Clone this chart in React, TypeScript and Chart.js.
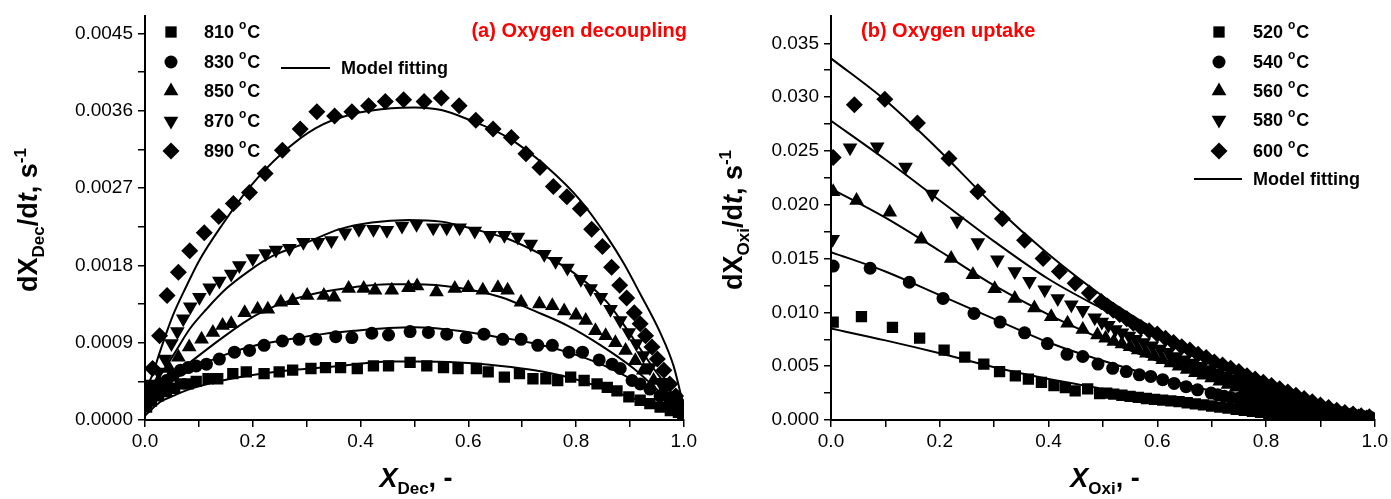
import React, { useEffect, useRef } from 'react';
import { Chart, registerables } from 'chart.js';

Chart.register(...registerables);

const FONT = '"Liberation Sans", Arial, Helvetica, sans-serif';

// ---------- Panel (a): oxygen decoupling ----------
const decTicksX = [0, 0.1, 0.2, 0.3, 0.4, 0.5, 0.6, 0.7, 0.8, 0.9, 1.0];
const decTicksY = [0, 0.00045, 0.0009, 0.00135, 0.0018, 0.00225, 0.0027, 0.00315, 0.0036, 0.00405, 0.0045];
const decLabels = ['810', '830', '850', '870', '890'];

const dec810 = [[0.003,0.15e-3],[0.012,0.22e-3],[0.025,0.28e-3],[0.04,0.33e-3],[0.055,0.37e-3],[0.066,0.42e-3],[0.08,0.42e-3],[0.095,0.45e-3],[0.117,0.48e-3],[0.135,0.48e-3],[0.163,0.54e-3],[0.188,0.56e-3],[0.221,0.54e-3],[0.249,0.56e-3],[0.274,0.58e-3],[0.308,0.60e-3],[0.335,0.61e-3],[0.363,0.61e-3],[0.394,0.60e-3],[0.424,0.63e-3],[0.452,0.63e-3],[0.492,0.67e-3],[0.523,0.63e-3],[0.554,0.61e-3],[0.581,0.60e-3],[0.615,0.60e-3],[0.637,0.56e-3],[0.667,0.50e-3],[0.695,0.54e-3],[0.72,0.48e-3],[0.744,0.48e-3],[0.766,0.46e-3],[0.79,0.50e-3],[0.815,0.46e-3],[0.839,0.42e-3],[0.858,0.38e-3],[0.876,0.34e-3],[0.898,0.27e-3],[0.919,0.23e-3],[0.937,0.19e-3],[0.956,0.15e-3],[0.975,0.11e-3],[0.99,0.09e-3],[0.998,0.06e-3]];
const dec830 = [[0.003,0.2e-3],[0.012,0.28e-3],[0.025,0.38e-3],[0.04,0.46e-3],[0.052,0.52e-3],[0.066,0.58e-3],[0.08,0.61e-3],[0.095,0.63e-3],[0.114,0.65e-3],[0.138,0.71e-3],[0.166,0.79e-3],[0.194,0.81e-3],[0.221,0.87e-3],[0.255,0.92e-3],[0.286,0.94e-3],[0.317,0.94e-3],[0.354,0.97e-3],[0.384,0.96e-3],[0.421,1.01e-3],[0.452,0.99e-3],[0.492,1.03e-3],[0.526,1.02e-3],[0.56,1.0e-3],[0.596,0.96e-3],[0.629,1.0e-3],[0.664,0.94e-3],[0.698,0.94e-3],[0.729,0.87e-3],[0.756,0.87e-3],[0.787,0.79e-3],[0.812,0.79e-3],[0.843,0.70e-3],[0.867,0.65e-3],[0.882,0.60e-3],[0.904,0.46e-3],[0.919,0.42e-3],[0.937,0.36e-3],[0.956,0.28e-3],[0.975,0.21e-3],[0.99,0.15e-3],[0.998,0.1e-3]];
const dec850 = [[0.003,0.25e-3],[0.012,0.33e-3],[0.025,0.45e-3],[0.045,0.6e-3],[0.062,0.73e-3],[0.082,0.85e-3],[0.105,0.94e-3],[0.126,1.02e-3],[0.144,1.1e-3],[0.16,1.12e-3],[0.185,1.25e-3],[0.209,1.29e-3],[0.228,1.29e-3],[0.252,1.37e-3],[0.274,1.39e-3],[0.301,1.45e-3],[0.332,1.45e-3],[0.351,1.43e-3],[0.378,1.53e-3],[0.406,1.53e-3],[0.427,1.51e-3],[0.458,1.51e-3],[0.489,1.54e-3],[0.505,1.56e-3],[0.541,1.49e-3],[0.575,1.53e-3],[0.6,1.54e-3],[0.627,1.51e-3],[0.655,1.54e-3],[0.673,1.51e-3],[0.698,1.37e-3],[0.732,1.35e-3],[0.756,1.33e-3],[0.778,1.27e-3],[0.8,1.22e-3],[0.818,1.16e-3],[0.836,1.04e-3],[0.855,0.98e-3],[0.873,0.9e-3],[0.892,0.81e-3],[0.91,0.69e-3],[0.925,0.58e-3],[0.944,0.46e-3],[0.962,0.34e-3],[0.981,0.25e-3],[0.996,0.17e-3]];
const dec870 = [[0.003,0.3e-3],[0.012,0.42e-3],[0.025,0.56e-3],[0.037,0.71e-3],[0.049,0.89e-3],[0.06,1.03e-3],[0.071,1.18e-3],[0.084,1.32e-3],[0.101,1.43e-3],[0.12,1.54e-3],[0.138,1.62e-3],[0.16,1.7e-3],[0.175,1.8e-3],[0.2,1.88e-3],[0.224,1.94e-3],[0.243,1.98e-3],[0.268,2.0e-3],[0.294,2.07e-3],[0.321,2.07e-3],[0.346,2.09e-3],[0.371,2.18e-3],[0.397,2.22e-3],[0.424,2.22e-3],[0.449,2.21e-3],[0.477,2.26e-3],[0.504,2.28e-3],[0.535,2.24e-3],[0.56,2.24e-3],[0.584,2.24e-3],[0.612,2.2e-3],[0.64,2.15e-3],[0.667,2.15e-3],[0.692,2.13e-3],[0.716,2.05e-3],[0.741,1.93e-3],[0.762,1.85e-3],[0.784,1.77e-3],[0.809,1.64e-3],[0.827,1.53e-3],[0.846,1.43e-3],[0.864,1.29e-3],[0.882,1.16e-3],[0.898,1.02e-3],[0.912,0.89e-3],[0.925,0.75e-3],[0.937,0.61e-3],[0.956,0.44e-3],[0.975,0.28e-3],[0.99,0.17e-3]];
const dec890 = [[0.003,0.35e-3],[0.014,0.6e-3],[0.027,0.98e-3],[0.041,1.45e-3],[0.062,1.72e-3],[0.083,1.97e-3],[0.11,2.18e-3],[0.137,2.37e-3],[0.164,2.52e-3],[0.194,2.65e-3],[0.223,2.87e-3],[0.255,3.14e-3],[0.288,3.39e-3],[0.319,3.59e-3],[0.352,3.54e-3],[0.384,3.59e-3],[0.415,3.66e-3],[0.446,3.71e-3],[0.48,3.73e-3],[0.518,3.71e-3],[0.55,3.75e-3],[0.583,3.66e-3],[0.614,3.49e-3],[0.646,3.39e-3],[0.68,3.29e-3],[0.707,3.1e-3],[0.733,2.94e-3],[0.758,2.72e-3],[0.783,2.6e-3],[0.808,2.46e-3],[0.829,2.22e-3],[0.849,2.02e-3],[0.866,1.78e-3],[0.881,1.57e-3],[0.894,1.42e-3],[0.908,1.25e-3],[0.919,1.12e-3],[0.929,0.98e-3],[0.941,0.85e-3],[0.951,0.71e-3],[0.963,0.58e-3],[0.974,0.42e-3],[0.985,0.28e-3],[0.996,0.17e-3]];

const decFit810 = [[0,0.05e-3],[0.028,0.21e-3],[0.052,0.28e-3],[0.083,0.36e-3],[0.144,0.46e-3],[0.206,0.53e-3],[0.268,0.58e-3],[0.329,0.61e-3],[0.391,0.65e-3],[0.452,0.68e-3],[0.5,0.68e-3],[0.581,0.67e-3],[0.661,0.63e-3],[0.723,0.58e-3],[0.784,0.5e-3],[0.846,0.38e-3],[0.907,0.25e-3],[0.956,0.13e-3],[1.0,0.02e-3]];
const decFit830 = [[0,0.2e-3],[0.02,0.33e-3],[0.05,0.46e-3],[0.083,0.58e-3],[0.144,0.75e-3],[0.206,0.87e-3],[0.268,0.94e-3],[0.329,1.0e-3],[0.391,1.04e-3],[0.452,1.07e-3],[0.5,1.08e-3],[0.581,1.04e-3],[0.661,0.96e-3],[0.723,0.89e-3],[0.784,0.79e-3],[0.846,0.65e-3],[0.907,0.46e-3],[0.956,0.27e-3],[1.0,0.05e-3]];
const decFit850 = [[0,0.22e-3],[0.02,0.35e-3],[0.05,0.52e-3],[0.083,0.67e-3],[0.144,0.96e-3],[0.206,1.22e-3],[0.268,1.39e-3],[0.329,1.49e-3],[0.391,1.55e-3],[0.452,1.58e-3],[0.5,1.58e-3],[0.581,1.54e-3],[0.661,1.43e-3],[0.723,1.27e-3],[0.784,1.1e-3],[0.846,0.87e-3],[0.907,0.6e-3],[0.956,0.32e-3],[1.0,0.05e-3]];
const decFit870 = [[0,0.3e-3],[0.015,0.4e-3],[0.052,0.75e-3],[0.083,1.06e-3],[0.114,1.29e-3],[0.151,1.53e-3],[0.194,1.74e-3],[0.237,1.91e-3],[0.298,2.06e-3],[0.36,2.22e-3],[0.421,2.3e-3],[0.489,2.33e-3],[0.55,2.31e-3],[0.612,2.22e-3],[0.673,2.11e-3],[0.735,1.93e-3],[0.79,1.74e-3],[0.858,1.37e-3],[0.907,0.94e-3],[0.944,0.6e-3],[0.981,0.28e-3],[1.0,0.05e-3]];
const decFit890 = [[0,0.35e-3],[0.012,0.5e-3],[0.028,0.8e-3],[0.052,1.22e-3],[0.077,1.56e-3],[0.1,1.85e-3],[0.144,2.28e-3],[0.194,2.71e-3],[0.255,3.11e-3],[0.317,3.4e-3],[0.384,3.56e-3],[0.458,3.63e-3],[0.5,3.64e-3],[0.55,3.61e-3],[0.6,3.5e-3],[0.673,3.29e-3],[0.747,2.94e-3],[0.809,2.55e-3],[0.858,2.13e-3],[0.889,1.82e-3],[0.919,1.47e-3],[0.956,1.02e-3],[0.981,0.63e-3],[1.0,0.15e-3]];

// ---------- Panel (b): oxygen uptake ----------
const oxiTicksX = [0, 0.1, 0.2, 0.3, 0.4, 0.5, 0.6, 0.7, 0.8, 0.9, 1.0];
const oxiTicksY = [0, 0.0025, 0.005, 0.0075, 0.01, 0.0125, 0.015, 0.0175, 0.02, 0.0225, 0.025, 0.0275, 0.03, 0.0325, 0.035];
const oxiLabels = ['520', '540', '560', '580', '600'];

const oxi520 = [[0.004,9.1e-3],[0.056,9.6e-3],[0.113,8.6e-3],[0.163,7.6e-3],[0.208,6.5e-3],[0.246,5.85e-3],[0.281,5.2e-3],[0.31,4.5e-3],[0.339,4.1e-3],[0.363,3.8e-3],[0.387,3.5e-3],[0.41,3.2e-3],[0.431,3.0e-3],[0.449,2.7e-3],[0.472,2.9e-3],[0.494,2.45e-3],[0.507,2.5e-3],[0.52,2.4e-3],[0.535,2.3e-3],[0.55,2.2e-3],[0.565,2.1e-3],[0.58,2.0e-3],[0.595,1.92e-3],[0.61,1.85e-3],[0.625,1.77e-3],[0.64,1.7e-3],[0.655,1.6e-3],[0.67,1.5e-3],[0.685,1.4e-3],[0.7,1.3e-3],[0.715,1.2e-3],[0.73,1.1e-3],[0.745,1.0e-3],[0.76,0.9e-3],[0.775,0.8e-3],[0.79,0.7e-3],[0.805,0.62e-3],[0.82,0.55e-3],[0.835,0.5e-3],[0.85,0.45e-3],[0.865,0.4e-3],[0.88,0.35e-3],[0.895,0.32e-3],[0.91,0.3e-3],[0.925,0.27e-3],[0.94,0.25e-3],[0.955,0.22e-3],[0.97,0.2e-3],[0.985,0.18e-3]];
const oxi540 = [[0.004,14.3e-3],[0.072,14.1e-3],[0.144,12.8e-3],[0.206,11.3e-3],[0.263,9.9e-3],[0.311,9.1e-3],[0.356,8.1e-3],[0.398,7.1e-3],[0.434,6.1e-3],[0.463,5.9e-3],[0.491,5.2e-3],[0.518,4.8e-3],[0.543,4.5e-3],[0.567,4.2e-3],[0.588,4.05e-3],[0.61,3.75e-3],[0.631,3.4e-3],[0.653,3.1e-3],[0.674,2.8e-3],[0.699,2.5e-3],[0.711,2.35e-3],[0.723,2.2e-3],[0.735,2.1e-3],[0.748,2.0e-3],[0.76,1.87e-3],[0.772,1.75e-3],[0.786,1.62e-3],[0.8,1.5e-3],[0.815,1.37e-3],[0.83,1.25e-3],[0.845,1.15e-3],[0.86,1.05e-3],[0.875,0.95e-3],[0.89,0.85e-3],[0.905,0.77e-3],[0.92,0.7e-3],[0.935,0.6e-3],[0.95,0.5e-3],[0.965,0.4e-3],[0.98,0.3e-3],[0.993,0.22e-3]];
const oxi560 = [[0.004,21.2e-3],[0.047,20.4e-3],[0.108,19.3e-3],[0.166,16.8e-3],[0.221,15.0e-3],[0.261,13.5e-3],[0.301,12.2e-3],[0.338,11.3e-3],[0.374,10.4e-3],[0.405,9.6e-3],[0.435,9.0e-3],[0.463,8.4e-3],[0.49,7.9e-3],[0.505,7.6e-3],[0.52,7.3e-3],[0.535,7.05e-3],[0.55,6.8e-3],[0.565,6.5e-3],[0.58,6.2e-3],[0.595,5.9e-3],[0.61,5.6e-3],[0.625,5.3e-3],[0.64,5.0e-3],[0.655,4.7e-3],[0.67,4.4e-3],[0.685,4.15e-3],[0.7,3.9e-3],[0.715,3.6e-3],[0.73,3.3e-3],[0.745,3.05e-3],[0.76,2.8e-3],[0.775,2.55e-3],[0.79,2.3e-3],[0.805,2.1e-3],[0.82,1.9e-3],[0.835,1.7e-3],[0.85,1.5e-3],[0.865,1.3e-3],[0.88,1.1e-3],[0.895,0.95e-3],[0.91,0.8e-3],[0.925,0.65e-3],[0.94,0.5e-3],[0.955,0.4e-3],[0.97,0.3e-3],[0.985,0.22e-3]];
const oxi580 = [[0.003,16.8e-3],[0.035,25.3e-3],[0.085,25.4e-3],[0.137,23.5e-3],[0.186,21.0e-3],[0.232,18.5e-3],[0.27,16.5e-3],[0.306,14.9e-3],[0.338,13.8e-3],[0.365,12.9e-3],[0.393,12.1e-3],[0.417,11.3e-3],[0.442,10.7e-3],[0.463,10.2e-3],[0.485,9.5e-3],[0.498,9.1e-3],[0.51,8.8e-3],[0.523,8.4e-3],[0.535,8.1e-3],[0.548,7.8e-3],[0.56,7.5e-3],[0.575,7.2e-3],[0.59,6.9e-3],[0.605,6.6e-3],[0.62,6.3e-3],[0.635,5.9e-3],[0.65,5.6e-3],[0.665,5.3e-3],[0.68,5.0e-3],[0.695,4.7e-3],[0.71,4.4e-3],[0.725,4.1e-3],[0.74,3.8e-3],[0.755,3.5e-3],[0.77,3.2e-3],[0.785,2.95e-3],[0.8,2.7e-3],[0.815,2.45e-3],[0.83,2.2e-3],[0.845,1.95e-3],[0.86,1.7e-3],[0.875,1.5e-3],[0.89,1.3e-3],[0.905,1.1e-3],[0.92,0.9e-3],[0.935,0.75e-3],[0.95,0.6e-3],[0.965,0.47e-3],[0.98,0.35e-3],[0.993,0.25e-3]];
const oxi600 = [[0.004,24.4e-3],[0.043,29.3e-3],[0.099,29.8e-3],[0.159,27.6e-3],[0.217,24.3e-3],[0.27,21.2e-3],[0.315,18.7e-3],[0.356,16.7e-3],[0.39,15.0e-3],[0.42,13.8e-3],[0.449,12.7e-3],[0.475,11.8e-3],[0.497,11.0e-3],[0.508,10.6e-3],[0.519,10.2e-3],[0.531,9.8e-3],[0.544,9.4e-3],[0.556,9.0e-3],[0.57,8.6e-3],[0.585,8.3e-3],[0.6,8.0e-3],[0.615,7.6e-3],[0.63,7.2e-3],[0.645,6.8e-3],[0.66,6.5e-3],[0.675,6.1e-3],[0.69,5.8e-3],[0.705,5.4e-3],[0.72,5.1e-3],[0.735,4.8e-3],[0.75,4.5e-3],[0.765,4.1e-3],[0.78,3.8e-3],[0.795,3.5e-3],[0.81,3.2e-3],[0.825,2.9e-3],[0.84,2.6e-3],[0.855,2.3e-3],[0.87,2.0e-3],[0.885,1.7e-3],[0.9,1.4e-3],[0.915,1.15e-3],[0.93,0.9e-3],[0.945,0.7e-3],[0.96,0.55e-3],[0.975,0.4e-3],[0.99,0.3e-3]];

const oxiFit520 = [[0,8.5e-3],[0.1,7.4e-3],[0.2,6.2e-3],[0.3,4.9e-3],[0.4,3.8e-3],[0.5,2.9e-3],[0.6,2.0e-3],[0.7,1.2e-3],[0.8,0.4e-3],[0.84,0.02e-3]];
const oxiFit540 = [[0,15.6e-3],[0.1,13.8e-3],[0.2,11.6e-3],[0.3,9.4e-3],[0.4,7.2e-3],[0.5,5.5e-3],[0.6,4.0e-3],[0.7,2.7e-3],[0.8,1.6e-3],[0.9,0.8e-3],[1.0,0.2e-3]];
const oxiFit560 = [[0,21.5e-3],[0.1,18.8e-3],[0.2,15.7e-3],[0.3,12.5e-3],[0.4,9.8e-3],[0.5,7.5e-3],[0.6,5.5e-3],[0.7,3.8e-3],[0.8,2.3e-3],[0.9,1.1e-3],[1.0,0.2e-3]];
const oxiFit580 = [[0,27.8e-3],[0.1,24.2e-3],[0.2,20.4e-3],[0.3,16.6e-3],[0.4,13.1e-3],[0.5,10.3e-3],[0.6,7.7e-3],[0.7,5.4e-3],[0.8,3.4e-3],[0.9,1.7e-3],[1.0,0.3e-3]];
const oxiFit600 = [[0,33.6e-3],[0.1,29.7e-3],[0.2,25.0e-3],[0.3,19.9e-3],[0.4,15.4e-3],[0.5,11.5e-3],[0.6,8.3e-3],[0.7,5.6e-3],[0.8,3.4e-3],[0.9,1.7e-3],[1.0,0.3e-3]];

type Pt = number[];
const STYLES = [
  { style: 'rect', r: 8, rot: 0 },
  { style: 'circle', r: 6.5, rot: 0 },
  { style: 'triangle', r: 8.5, rot: 0 },
  { style: 'triangle', r: 8.5, rot: 180 },
  { style: 'rectRot', r: 8.5, rot: 0 },
];

function drawMarker(ctx: CanvasRenderingContext2D, style: string, x: number, y: number, r: number, rotDeg: number) {
  ctx.beginPath();
  if (style === 'rect') {
    const s = r * Math.SQRT1_2;
    ctx.rect(x - s, y - s, 2 * s, 2 * s);
  } else if (style === 'circle') {
    ctx.arc(x, y, r, 0, Math.PI * 2);
  } else if (style === 'triangle') {
    let rad = (rotDeg * Math.PI) / 180;
    ctx.moveTo(x + Math.sin(rad) * r, y - Math.cos(rad) * r);
    rad += (2 * Math.PI) / 3;
    ctx.lineTo(x + Math.sin(rad) * r, y - Math.cos(rad) * r);
    rad += (2 * Math.PI) / 3;
    ctx.lineTo(x + Math.sin(rad) * r, y - Math.cos(rad) * r);
    ctx.closePath();
  } else {
    ctx.moveTo(x - r, y);
    ctx.lineTo(x, y - r);
    ctx.lineTo(x + r, y);
    ctx.lineTo(x, y + r);
    ctx.closePath();
  }
  ctx.fill();
}

function makeDatasets(series: Pt[][], fits: Pt[][]) {
  const ds: any[] = [];
  fits.forEach((f) => {
    ds.push({
      data: f.map((p) => ({ x: p[0], y: p[1] })),
      showLine: true,
      borderColor: '#000',
      borderWidth: 2,
      pointRadius: 0,
      tension: 0.4,
      cubicInterpolationMode: 'monotone',
      order: 0,
    });
  });
  series.forEach((s, i) => {
    ds.push({
      data: s.map((p) => ({ x: p[0], y: p[1] })),
      showLine: false,
      pointStyle: STYLES[i].style,
      pointRotation: STYLES[i].rot,
      pointRadius: STYLES[i].r,
      backgroundColor: '#000',
      borderColor: '#000',
      borderWidth: 0,
      order: 1,
    });
  });
  return ds;
}

interface LegendCfg {
  labels: string[];
  markerX: number;
  textX: number;
  rows: number[];
  fitLine: [number, number, number];
  fitTextX: number;
  title: string;
  titleX: number;
  titleY: number;
  titleAlign: CanvasTextAlign;
}

function legendPlugin(cfg: LegendCfg) {
  return {
    id: 'customLegend',
    afterDraw(chart: any) {
      const ctx: CanvasRenderingContext2D = chart.ctx;
      ctx.save();
      ctx.fillStyle = '#000';
      ctx.textBaseline = 'middle';
      cfg.labels.forEach((lab, i) => {
        const st = STYLES[i];
        drawMarker(ctx, st.style, cfg.markerX, cfg.rows[i], st.r, st.rot);
        ctx.font = `bold 18px ${FONT}`;
        ctx.textAlign = 'left';
        const t1 = lab + ' ';
        ctx.fillText(t1, cfg.textX, cfg.rows[i] + 1);
        const w1 = ctx.measureText(t1).width;
        ctx.font = `bold 12px ${FONT}`;
        ctx.fillText('o', cfg.textX + w1, cfg.rows[i] - 6);
        const w2 = ctx.measureText('o').width;
        ctx.font = `bold 18px ${FONT}`;
        ctx.fillText('C', cfg.textX + w1 + w2 + 1, cfg.rows[i] + 1);
      });
      const [x1, x2, yl] = cfg.fitLine;
      ctx.strokeStyle = '#000';
      ctx.lineWidth = 2;
      ctx.beginPath();
      ctx.moveTo(x1, yl);
      ctx.lineTo(x2, yl);
      ctx.stroke();
      ctx.font = `bold 18px ${FONT}`;
      ctx.textAlign = 'left';
      ctx.fillText('Model fitting', cfg.fitTextX, yl + 1);
      ctx.fillStyle = '#ff0000';
      ctx.font = `bold 20px ${FONT}`;
      ctx.textAlign = cfg.titleAlign;
      ctx.fillText(cfg.title, cfg.titleX, cfg.titleY);
      ctx.restore();
    },
  };
}

function makeOptions(opts: {
  xTicks: number[];
  yTicks: number[];
  yMax: number;
  yStepMajor: number;
  yDigits: number;
  yWidth: number;
  xHeight: number;
  padRight: number;
  padTop: number;
}) {
  const tickFont = { family: FONT, size: 19 };
  return {
    responsive: false,
    animation: false as const,
    events: [],
    layout: { padding: { top: opts.padTop, right: opts.padRight, left: 0, bottom: 0 } },
    plugins: { legend: { display: false }, tooltip: { enabled: false } },
    scales: {
      x: {
        type: 'linear',
        min: 0,
        max: 1,
        afterBuildTicks: (s: any) => {
          s.ticks = opts.xTicks.map((v) => ({ value: v }));
        },
        afterFit: (s: any) => {
          s.height = opts.xHeight;
        },
        ticks: {
          autoSkip: false,
          maxRotation: 0,
          padding: 3,
          color: '#000',
          font: tickFont,
          callback: (v: any) => (Math.round(Number(v) * 10) % 2 === 0 ? Number(v).toFixed(1) : ''),
        },
        grid: { drawOnChartArea: false, drawTicks: true, tickLength: 7, color: '#000', lineWidth: 1.5 },
        border: { display: true, color: '#000', width: 2 },
      },
      y: {
        type: 'linear',
        min: 0,
        max: opts.yMax,
        afterBuildTicks: (s: any) => {
          s.ticks = opts.yTicks.map((v) => ({ value: v }));
        },
        afterFit: (s: any) => {
          s.width = opts.yWidth;
        },
        ticks: {
          autoSkip: false,
          padding: 5,
          color: '#000',
          font: tickFont,
          callback: (v: any) => {
            const n = Number(v);
            return Math.round((n / opts.yStepMajor) * 2) % 2 === 0 ? n.toFixed(opts.yDigits) : '';
          },
        },
        grid: { drawOnChartArea: false, drawTicks: true, tickLength: 7, color: '#000', lineWidth: 1.5 },
        border: { display: true, color: '#000', width: 2 },
      },
    },
  } as any;
}

const titleStyle: React.CSSProperties = {
  position: 'absolute',
  fontFamily: FONT,
  fontWeight: 'bold',
  fontSize: 27,
  color: '#000',
  whiteSpace: 'nowrap',
  lineHeight: '36px',
  textAlign: 'center',
};
const subStyle: React.CSSProperties = { fontSize: 17, verticalAlign: -7, lineHeight: 0 };
const supStyle: React.CSSProperties = { fontSize: 17, verticalAlign: 11, lineHeight: 0 };

export default function App() {
  const leftRef = useRef<HTMLCanvasElement>(null);
  const rightRef = useRef<HTMLCanvasElement>(null);

  useEffect(() => {
    const left = new Chart(leftRef.current as HTMLCanvasElement, {
      type: 'scatter',
      data: {
        datasets: makeDatasets(
          [dec810, dec830, dec850, dec870, dec890],
          [decFit810, decFit830, decFit850, decFit870, decFit890]
        ),
      },
      options: makeOptions({
        xTicks: decTicksX,
        yTicks: decTicksY,
        yMax: 0.0047,
        yStepMajor: 0.0009,
        yDigits: 4,
        yWidth: 145,
        xHeight: 79,
        padRight: 13,
        padTop: 15,
      }),
      plugins: [
        legendPlugin({
          labels: decLabels,
          markerX: 171,
          textX: 204,
          rows: [32, 62, 91, 121, 151],
          fitLine: [281, 330, 68],
          fitTextX: 341,
          title: '(a) Oxygen decoupling',
          titleX: 687,
          titleY: 31,
          titleAlign: 'right',
        }),
      ],
    } as any);

    const right = new Chart(rightRef.current as HTMLCanvasElement, {
      type: 'scatter',
      data: {
        datasets: makeDatasets(
          [oxi520, oxi540, oxi560, oxi580, oxi600],
          [oxiFit520, oxiFit540, oxiFit560, oxiFit580, oxiFit600]
        ),
      },
      options: makeOptions({
        xTicks: oxiTicksX,
        yTicks: oxiTicksY,
        yMax: 0.0375,
        yStepMajor: 0.005,
        yDigits: 3,
        yWidth: 131,
        xHeight: 79,
        padRight: 15,
        padTop: 15,
      }),
      plugins: [
        legendPlugin({
          labels: oxiLabels,
          markerX: 519,
          textX: 553,
          rows: [32, 62, 91, 120, 151],
          fitLine: [494, 542, 179],
          fitTextX: 553,
          title: '(b) Oxygen uptake',
          titleX: 161,
          titleY: 31,
          titleAlign: 'left',
        }),
      ],
    } as any);

    return () => {
      left.destroy();
      right.destroy();
    };
  }, []);

  return (
    <div style={{ position: 'fixed', left: 0, top: 0, width: 1391, height: 499, background: '#fff', overflow: 'hidden' }}>
      <canvas ref={leftRef} width={700} height={499} style={{ position: 'absolute', left: 0, top: 0 }} />
      <canvas ref={rightRef} width={691} height={499} style={{ position: 'absolute', left: 700, top: 0 }} />

      <div style={{ ...titleStyle, left: 28 - 150, top: 220 - 18, width: 300, height: 36, transform: 'rotate(-90deg)' }}>
        dX<span style={subStyle}>Dec</span>/d<i>t</i>, s<span style={supStyle}>-1</span>
      </div>
      <div style={{ ...titleStyle, left: 733 - 150, top: 220 - 18, width: 300, height: 36, transform: 'rotate(-90deg)' }}>
        dX<span style={subStyle}>Oxi</span>/d<i>t</i>, s<span style={supStyle}>-1</span>
      </div>

      <div style={{ ...titleStyle, left: 416 - 100, top: 460, width: 200, height: 36 }}>
        <i>X</i><span style={subStyle}>Dec</span>, -
      </div>
      <div style={{ ...titleStyle, left: 1105 - 100, top: 460, width: 200, height: 36 }}>
        <i>X</i><span style={subStyle}>Oxi</span>, -
      </div>
    </div>
  );
}
